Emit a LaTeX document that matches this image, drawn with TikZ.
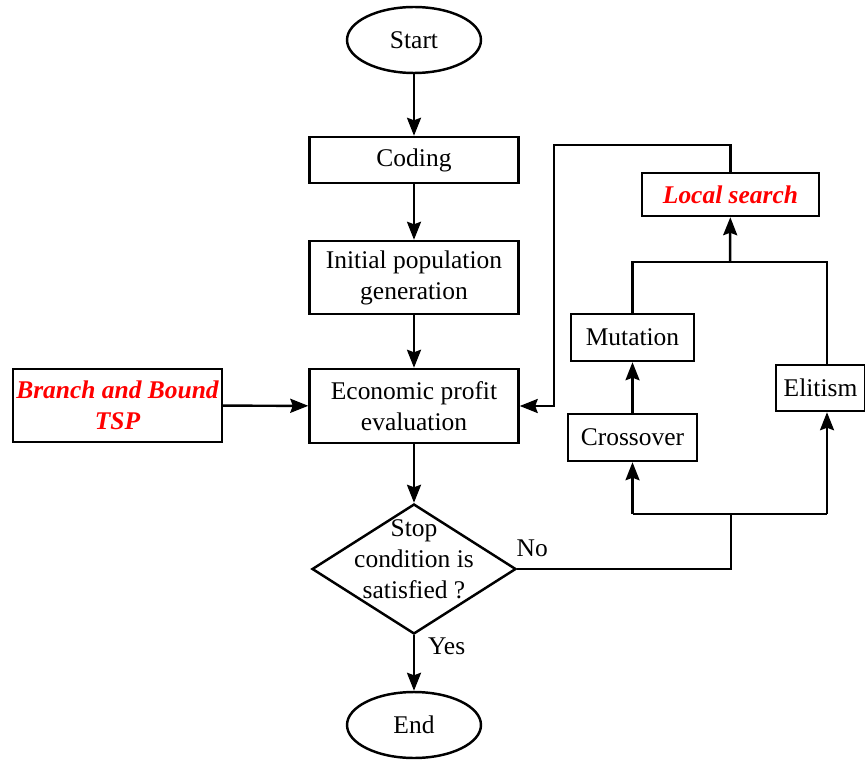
\documentclass[tikz,border=0pt]{standalone}
\usepackage{fontspec}
\setmainfont{Liberation Serif}
\usetikzlibrary{shapes.geometric,arrows.meta}

\begin{document}
\begin{tikzpicture}[x = 0.02cm, y = -0.02cm, line width = 1.4pt,
                    txt/.style = {font = \fontsize{14.5}{17.6}\selectfont},
                    redtxt/.style = {text = red, font = \fontsize{14.5}{17.6}\selectfont\bfseries\itshape},
                    box/.style = {rectangle, draw, align = center, inner sep = 0pt, txt},
                    term/.style = {ellipse, draw, minimum width = 2.68cm, minimum height = 1.32cm, inner sep = 0pt, txt},
                    arr/.style = {-{Stealth[length = 0.36cm, width = 0.28cm, inset = 0.05cm]}}]
      \useasboundingbox (0, 0) rectangle (865, 760);
      % main column
      \node [term] (start) at (414, 40){Start};
      \node [box, minimum width = 4.18cm, minimum height = 0.92cm] (coding) at (414, 160){Coding};
      \node [box, minimum width = 4.18cm, minimum height = 1.46cm] (init) at (414, 277.5){Initial population\\generation};
      \node [box, minimum width = 4.18cm, minimum height = 1.48cm] (eval) at (414, 406){Economic profit\\evaluation};
      \node [diamond, draw, minimum width = 4.08cm, minimum height = 2.6cm, inner sep = 0pt] (stop) at (414, 569){};
      \node [txt, align = center, yshift = 0.2cm] (stoptxt) at (stop){Stop\\condition is\\satisfied ?};
      \node [term] (end) at (414, 725){End};
      % left box
      \node [box, redtxt, minimum width = 4.18cm, minimum height = 1.46cm] (bnb) at (117.5, 405.5){Branch and Bound\\TSP};
      % GA operators
      \node [box, redtxt, minimum width = 3.54cm, minimum height = 0.86cm] (local) at (730.5, 194.5){Local search};
      \node [box, minimum width = 2.46cm, minimum height = 0.94cm] (mut) at (632.5, 337.5){Mutation};
      \node [box, minimum width = 2.58cm, minimum height = 0.94cm] (cross) at (632.5, 437.5){Crossover};
      \node [box, minimum width = 1.78cm, minimum height = 0.92cm] (elit) at (820.5, 388){Elitism};
      \coordinate (top) at (730, 262);
      \coordinate (bot) at (731, 514);
      \coordinate (loop) at (554, 145);
      \draw [arr] (start) -- (coding);
      \draw [arr] (coding) -- (init);
      \draw [arr] (init) -- (eval);
      \draw [arr] (eval) -- (stop);
      \draw [arr] (stop) -- node [txt, right, pos = 0.2, xshift = 4pt]{Yes} (end);
      \draw [arr] (bnb) -- (eval);
      \draw (stop.east) -- node [txt, above, pos = 0.07, yshift = 3pt]{No} (stop.east -| bot) -- (bot);
      \draw [arr] (bot -| cross) -- (cross);
      \draw [arr] (bot -| 827, 0) -- (827, 0 |- elit.south);
      \draw (bot -| cross) -- (bot -| 827, 0);
      \draw [arr] (cross) -- (mut);
      \draw (mut) -- (top -| mut) -- (top -| 827, 0) -- (827, 0 |- elit.north);
      \draw [arr] (top) -- (local);
      \draw [arr] (local) -- (local.north |- loop) -- (loop) -- (loop |- eval) -- (eval);
\end{tikzpicture}
\end{document}
